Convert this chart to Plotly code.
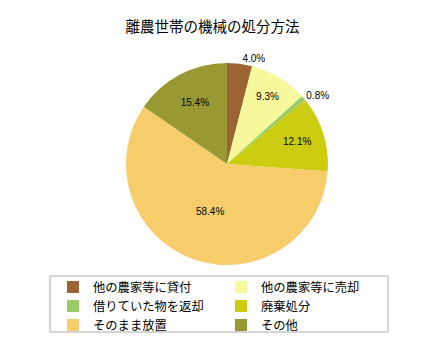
import plotly.graph_objects as go

categories = ["他の農家等に貸付", "他の農家等に売却", "借りていた物を返却", "廃棄処分", "そのまま放置", "その他"]
values = [4.0, 9.3, 0.8, 12.1, 58.4, 15.4]
colors = ["#9C6333", "#F7F79C", "#99CC66", "#CCCC11", "#F7CC6B", "#999933"]
text_positions = ["outside", "inside", "outside", "inside", "inside", "inside"]

W, H = 426, 357
cx, cy, r = 227, 164, 101

fig = go.Figure(go.Pie(
    labels=categories,
    values=values,
    sort=False,
    direction="clockwise",
    rotation=0,
    marker=dict(colors=colors, line=dict(width=0)),
    texttemplate="%{value:.1f}%",
    textposition=text_positions,
    insidetextorientation="horizontal",
    textfont=dict(family="Liberation Sans, Arial, sans-serif", size=10, color="#000000"),
    domain=dict(x=[(cx - r) / W, (cx + r) / W], y=[1 - (cy + r) / H, 1 - (cy - r) / H]),
    hoverinfo="label+percent",
))

# legend frame
fig.add_shape(type="rect", xref="paper", yref="paper",
              x0=50 / W, x1=388 / W, y0=1 - 332 / H, y1=1 - 276 / H,
              line=dict(color="#AAAAAA", width=1), fillcolor="rgba(0,0,0,0)", layer="below")

fig.update_layout(
    width=W, height=H,
    margin=dict(l=0, r=0, t=0, b=0, autoexpand=False),
    paper_bgcolor="white",
    plot_bgcolor="white",
    title=dict(text="離農世帯の機械の処分方法", x=212.5 / W, xanchor="center", y=1 - 27 / H, yanchor="middle",
               font=dict(family="Noto Sans CJK JP", size=14.5, color="#000000")),
    showlegend=True,
    legend=dict(
        orientation="h",
        x=53 / W, xanchor="left",
        y=1 - 272.5 / H, yanchor="top",
        entrywidth=123,
        bgcolor="rgba(0,0,0,0)",
        borderwidth=0,
        font=dict(family="Noto Sans CJK JP", size=12.3, color="#000000"),
        tracegroupgap=0,
        itemwidth=30,
    ),
)

fig.write_html("out.html", post_script="document.body.style.margin='0';",
               config={"displayModeBar": False})
